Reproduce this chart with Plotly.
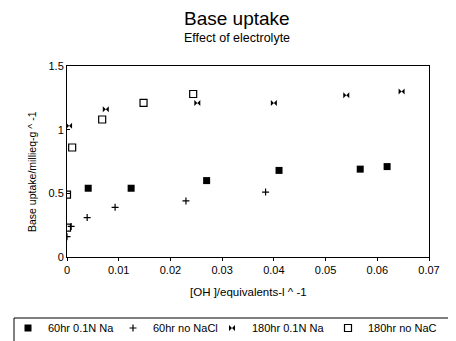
import plotly.graph_objects as go

# Data
x_60_na = [0.0041, 0.0124, 0.027, 0.041, 0.0567, 0.0619]
y_60_na = [0.54, 0.54, 0.60, 0.68, 0.69, 0.71]

x_60_no = [0.0, 0.0008, 0.0039, 0.0093, 0.023, 0.0384]
y_60_no = [0.16, 0.24, 0.31, 0.39, 0.44, 0.51]

x_180_na = [0.0004, 0.0075, 0.0252, 0.040, 0.054, 0.0647]
y_180_na = [1.03, 1.16, 1.21, 1.21, 1.27, 1.30]

x_180_no = [0.0, 0.0, 0.001, 0.0068, 0.0148, 0.0244]
y_180_no = [0.23, 0.49, 0.86, 1.08, 1.21, 1.28]

names = ["60hr 0.1N Na", "60hr no NaCl", "180hr 0.1N Na", "180hr no NaC"]
x_ticks = [0, 0.01, 0.02, 0.03, 0.04, 0.05, 0.06, 0.07]
x_tick_labels = ["0", "0.01", "0.02", "0.03", "0.04", "0.05", "0.06", "0.07"]
y_ticks = [0, 0.5, 1, 1.5]
y_tick_labels = ["0", "0.5", "1", "1.5"]

FONT = "Liberation Sans, Arial, sans-serif"
W, H = 456, 341
OFF = 8  # page body margin
# plot area in screen px: x 67..429, y 66..257
L, T = 67 - OFF, 66 - OFF
R = W - (429 - OFF)
B = H - (257 - OFF)

fig = go.Figure()
series = [
    (x_60_na, y_60_na, dict(symbol="square", size=7, color="black")),
    (x_60_no, y_60_no, dict(symbol="cross-thin", size=5, color="black", line=dict(width=1.2, color="black"))),
    (x_180_na, y_180_na, dict(symbol="bowtie", size=6, color="black")),
    (x_180_no, y_180_no, dict(symbol="square-open", size=7, color="black", line=dict(width=1.2, color="black"))),
]
legends = ["legend", "legend2", "legend3", "legend4"]
for (xs, ys, mk), nm, lg in zip(series, names, legends):
    fig.add_trace(go.Scatter(x=xs, y=ys, mode="markers", name=nm, marker=mk,
                             showlegend=True, legend=lg))

marker_screen = [28, 133, 232, 348]
leg_y = 1 - (328 - OFF) / H
leg_common = dict(xref="container", yref="container", orientation="h",
                  yanchor="middle", xanchor="left", bgcolor="rgba(0,0,0,0)",
                  font=dict(family=FONT, size=11, color="black"),
                  itemwidth=30, borderwidth=0)
layout_legends = {}
for lg, sx in zip(legends, marker_screen):
    layout_legends[lg] = dict(x=(sx - OFF - 20) / W, y=leg_y, **leg_common)

pw = W - L - R
ph = H - T - B

def sx2paper(sx):
    return (sx - OFF - L) / pw

def sy2paper(sy):
    return (H - B - (sy - OFF)) / ph

fig.update_layout(
    width=W, height=H,
    margin=dict(l=L, r=R, t=T, b=B, autoexpand=False),
    paper_bgcolor="white", plot_bgcolor="white",
    font=dict(family=FONT, color="black", size=10),
    **layout_legends,
    annotations=[
        dict(text="Base uptake", xref="paper", yref="paper",
             x=sx2paper(237), y=sy2paper(18.5), showarrow=False, xanchor="center", yanchor="middle",
             font=dict(size=19, family=FONT, color="black")),
        dict(text="Effect of electrolyte", xref="paper", yref="paper",
             x=sx2paper(237), y=sy2paper(38.5), showarrow=False, xanchor="center", yanchor="middle",
             font=dict(size=12.5, family=FONT, color="black")),
        dict(text="Base uptake/millieq-g ^ -1", xref="paper", yref="paper",
             x=sx2paper(32), y=sy2paper(172), showarrow=False, xanchor="center", yanchor="middle",
             textangle=-90, font=dict(size=10.5, family=FONT, color="black")),
        dict(text="[OH ]/equivalents-l ^ -1", xref="paper", yref="paper",
             x=sx2paper(248), y=sy2paper(292), showarrow=False, xanchor="center", yanchor="middle",
             font=dict(size=11.5, family=FONT, color="black")),
    ],
    shapes=[
        dict(type="rect", xref="paper", yref="paper",
             x0=sx2paper(14), x1=sx2paper(480), y0=sy2paper(370), y1=sy2paper(318),
             line=dict(color="black", width=1), fillcolor="rgba(0,0,0,0)"),
    ],
)

fig.update_xaxes(range=[0, 0.07], tickvals=x_ticks, ticktext=x_tick_labels,
                 showgrid=False, zeroline=False, showline=True, mirror=True,
                 linecolor="black", linewidth=1, ticks="outside", ticklen=3,
                 tickcolor="black", tickfont=dict(size=11, family=FONT), automargin=False)
fig.update_yaxes(range=[0, 1.5], tickvals=y_ticks, ticktext=y_tick_labels,
                 showgrid=False, zeroline=False, showline=True, mirror=True,
                 linecolor="black", linewidth=1, ticks="inside", ticklen=3,
                 tickcolor="black", tickfont=dict(size=11, family=FONT), automargin=False)

fig.write_html("out.html")
